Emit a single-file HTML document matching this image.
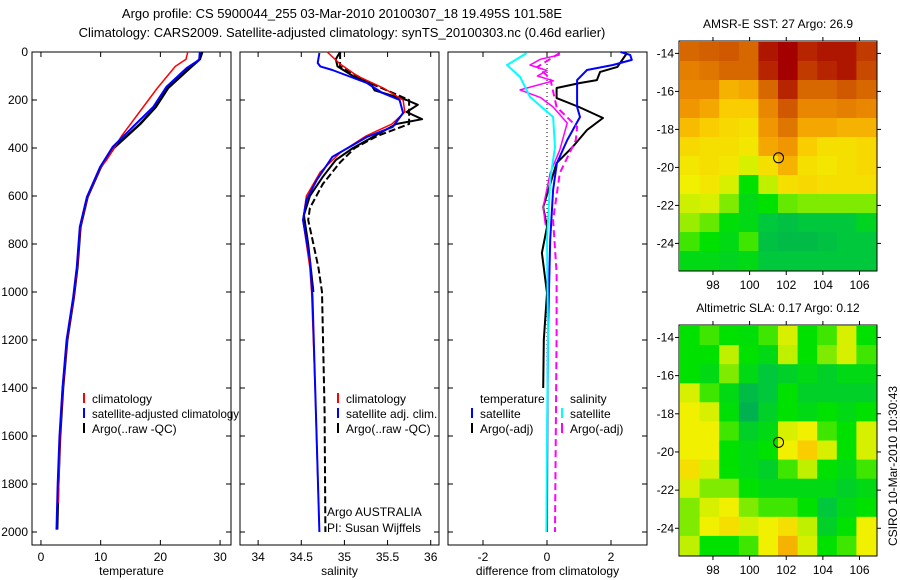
<!DOCTYPE html>
<html><head><meta charset="utf-8">
<style>
html,body{margin:0;padding:0;background:#fff;}
svg{display:block;font-family:"Liberation Sans",sans-serif;}
text{font-size:12px;fill:#000;}
</style></head>
<body>
<svg id="fig" width="900" height="580" viewBox="0 0 900 580" xmlns="http://www.w3.org/2000/svg">
<text x="342" y="18" text-anchor="middle" style="font-size:13px">Argo profile: CS 5900044_255 03-Mar-2010 20100307_18 19.495S 101.58E</text>
<text x="342" y="37" text-anchor="middle" style="font-size:13px">Climatology: CARS2009. Satellite-adjusted climatology: synTS_20100303.nc (0.46d earlier)</text>
<text transform="translate(897,466) rotate(-90)" text-anchor="middle">CSIRO 10-Mar-2010 10:30:43</text>
</svg>
<script>
// ---------- data ----------
const depthTicks=[0,200,400,600,800,1000,1200,1400,1600,1800,2000];
const tempTicks=[0,10,20,30];
const salTicks=[34,34.5,35,35.5,36];
const diffTicks=[-2,0,2];
// panel 1 temperature
const tClimD=[0,30,60,150,250,350,450,480,604,729,896,1021,1200,1400,1600,1880];
const tClimV=[24.6,24.3,22.5,19.5,16.5,13.5,11,10,7.8,6.6,6.1,5.5,4.4,3.7,3.2,2.9];
const tSatD=[0,33,67,146,229,312,396,479,604,729,896,1021,1200,1400,1600,1800,1990];
const tSatV=[26.6,26.5,24.4,21,18.8,15.4,12,9.9,7.7,6.5,6,5.4,4.3,3.6,3.1,2.8,2.6];
const tArgoD=[0,30,70,150,230,300,400,480,604,729,896,1021,1200,1400,1600,1800,1990];
const tArgoV=[27,26.6,24.8,21.3,19.2,16.6,12.2,10,7.8,6.6,6.1,5.5,4.4,3.7,3.2,2.9,2.7];
// panel 2 salinity
const sClimD=[0,50,100,150,200,250,300,350,420,500,600,700,900,1000,1400,1880];
const sClimV=[34.8,34.95,35.15,35.45,35.68,35.7,35.55,35.25,34.95,34.72,34.56,34.52,34.6,34.62,34.66,34.7];
const sSatD=[4,46,60,75,129,171,200,254,312,354,437,533,617,700,867,1021,1500,2000];
const sSatV=[34.71,34.69,34.72,34.86,35.26,35.44,35.64,35.68,35.56,35.26,34.86,34.68,34.56,34.52,34.6,34.63,34.67,34.71];
const sArgoD=[0,30,60,100,130,160,200,220,250,280,300,350,400,450,520,600,680,800,1000];
const sArgoV=[34.95,34.9,34.92,35.1,35.3,35.35,35.72,35.85,35.72,35.9,35.6,35.35,35.1,34.9,34.75,34.6,34.53,34.58,34.64];
const sRawD=[0,60,130,200,250,300,350,400,460,550,650,700,800,900,1000,1500,2000];
const sRawV=[34.95,34.95,35.3,35.75,35.75,35.75,35.38,35.12,34.95,34.75,34.6,34.58,34.64,34.7,34.74,34.77,34.78];
// panel 3 differences
const dTSatD=[0,12,33,54,75,117,229,271,367,463,575,783,1171,1600,2000];
const dTSatV=[2.3,2.6,2.65,2.06,1.25,0.94,0.94,1.03,0.63,0.31,0.19,0.1,0.03,0.01,0];
const dTArgoD=[4,62,83,117,129,150,192,229,275,325,396,463,646,729,837,1004,1200,1400];
const dTArgoV=[2.5,2.2,1.66,1.56,1.03,0.3,0.3,1.0,1.75,1.25,0.8,0.3,-0.12,0,-0.16,0,-0.1,-0.12];
const dSSatD=[4,54,104,187,271,396,533,783,1171,1600,2000];
const dSSatV=[-0.63,-1.25,-0.84,-0.53,0.19,0.25,0.1,0,0.03,0,-0.02];
const dSArgoD=[12,30,54,77,100,120,158,190,229,296,408,504,646,720];
const dSArgoV=[0.4,-0.2,-0.53,0,-0.3,0.2,-0.84,-0.2,0.19,0.63,0.4,0.1,-0.12,-0.05];
const dSRawD=[4,62,110,229,312,367,504,700,921,1171,2000];
const dSRawV=[0.4,-0.3,0.1,0.3,0.94,0.9,0.4,0.19,0.3,0.3,0.25];
// maps (rows top->bottom, 10 cols), normalised colour values
const sstGrid=[
[0.85,0.87,0.88,0.85,0.97,1.0,0.95,0.97,0.97,0.92],
[0.8,0.82,0.85,0.85,0.95,1.0,0.92,0.95,0.97,0.9],
[0.78,0.78,0.7,0.72,0.85,0.95,0.85,0.85,0.88,0.85],
[0.75,0.72,0.65,0.65,0.78,0.88,0.78,0.78,0.8,0.78],
[0.68,0.65,0.62,0.6,0.75,0.82,0.72,0.72,0.7,0.7],
[0.62,0.6,0.6,0.58,0.72,0.75,0.65,0.6,0.6,0.62],
[0.58,0.6,0.58,0.5,0.6,0.7,0.6,0.58,0.6,0.62],
[0.55,0.58,0.5,0.3,0.45,0.6,0.62,0.6,0.6,0.6],
[0.48,0.5,0.4,0.25,0.3,0.38,0.4,0.4,0.4,0.4],
[0.42,0.38,0.28,0.25,0.15,0.12,0.15,0.15,0.15,0.22],
[0.35,0.3,0.25,0.35,0.12,0.1,0.1,0.12,0.15,0.15],
[0.25,0.25,0.22,0.25,0.15,0.15,0.15,0.15,0.15,0.15]];
const slaGrid=[
[0.3,0.35,0.3,0.28,0.35,0.5,0.3,0.35,0.5,0.3],
[0.3,0.3,0.45,0.3,0.25,0.45,0.3,0.4,0.5,0.35],
[0.3,0.25,0.4,0.25,0.15,0.2,0.25,0.2,0.25,0.25],
[0.5,0.35,0.25,0.1,0.15,0.3,0.2,0.2,0.2,0.2],
[0.55,0.5,0.28,0.05,0.2,0.3,0.25,0.3,0.25,0.3],
[0.55,0.55,0.35,0.2,0.25,0.5,0.55,0.35,0.3,0.5],
[0.55,0.55,0.3,0.25,0.3,0.55,0.65,0.5,0.3,0.5],
[0.6,0.5,0.3,0.25,0.2,0.35,0.45,0.3,0.25,0.35],
[0.5,0.4,0.4,0.3,0.25,0.25,0.25,0.25,0.2,0.25],
[0.4,0.5,0.55,0.4,0.35,0.35,0.3,0.15,0.25,0.3],
[0.4,0.55,0.6,0.5,0.55,0.6,0.45,0.2,0.3,0.55],
[0.45,0.3,0.3,0.35,0.55,0.7,0.5,0.3,0.35,0.55]];
const lonTicks=[98,100,102,104,106];
const latTicks=[-14,-16,-18,-20,-22,-24];
const argoLon=101.58, argoLat=-19.495;

// ---------- helpers ----------
const NS='http://www.w3.org/2000/svg';
const svg=document.getElementById('fig');
function mk(tag,attrs,parent){const e=document.createElementNS(NS,tag);for(const k in attrs)e.setAttribute(k,attrs[k]);(parent||svg).appendChild(e);return e;}
const PT=52, PB=545;
function yD(d){return PT+d*0.24;}
const panels=[
 {x0:32,x1:231,vmin:-1.5,vmax:31.83,ticks:tempTicks,label:'temperature',name:'temperature-panel'},
 {x0:240,x1:439,vmin:33.79,vmax:36.096,ticks:salTicks,label:'salinity',name:'salinity-panel'},
 {x0:448,x1:647,vmin:-3.094,vmax:3.125,ticks:diffTicks,label:'difference from climatology',name:'difference-panel'}];
function xF(p){return v=>p.x0+(v-p.vmin)/(p.vmax-p.vmin)*(p.x1-p.x0);}

panels.forEach((p,i)=>{
  const g=mk('g',{});
  
  
  const fr=mk('rect',{x:p.x0,y:PT,width:p.x1-p.x0,height:PB-PT,fill:'#fff',stroke:'#000','stroke-width':1},g);
  
  
  const X=xF(p);
  p.ticks.forEach(t=>{
    const x=X(t);
    mk('line',{x1:x,y1:PT,x2:x,y2:PT+5,stroke:'#000'},g);
    mk('line',{x1:x,y1:PB,x2:x,y2:PB-5,stroke:'#000'},g);
    const tl=mk('text',{x:x,y:PB+16,'text-anchor':'middle'},g);tl.textContent=t;
    
    
  });
  depthTicks.forEach(d=>{
    const y=yD(d);
    mk('line',{x1:p.x0,y1:y,x2:p.x0+5,y2:y,stroke:'#000'},g);
    mk('line',{x1:p.x1,y1:y,x2:p.x1-5,y2:y,stroke:'#000'},g);
    if(i===0){const tl=mk('text',{x:28,y:y+4,'text-anchor':'end'},g);tl.textContent=d;
      
      }
  });
  const xl=mk('text',{x:(p.x0+p.x1)/2,y:575,'text-anchor':'middle'},g);xl.textContent=p.label;
  
  
  p.X=X;
});
function line(p,D,V,color,w,dash,name){
  const pts=D.map((d,k)=>p.X(V[k]).toFixed(1)+','+yD(d).toFixed(1)).join(' ');
  const e=mk('polyline',{points:pts,fill:'none',stroke:color,'stroke-width':w,'stroke-linejoin':'round'});
  if(dash)e.setAttribute('stroke-dasharray',dash);
  
  
}
const [P1,P2,P3]=panels;
const z=mk('line',{x1:P3.X(0),y1:PT,x2:P3.X(0),y2:yD(1400),stroke:'#000','stroke-dasharray':'1,3'});


line(P1,tArgoD,tArgoV,'#000',2.5,null,'temp-argo-line');
line(P1,tClimD,tClimV,'#f00',1.5,null,'temp-climatology-line');
line(P1,tSatD,tSatV,'#00f',2,null,'temp-satellite-line');
line(P2,sRawD,sRawV,'#000',2,'7,3','sal-argo-raw-line');
line(P2,sArgoD,sArgoV,'#000',2,null,'sal-argo-line');
line(P2,sClimD,sClimV,'#f00',1.5,null,'sal-climatology-line');
line(P2,sSatD,sSatV,'#00f',2,null,'sal-satellite-line');
line(P3,dTArgoD,dTArgoV,'#000',2,null,'diff-temp-argo-line');
line(P3,dTSatD,dTSatV,'#00f',2,null,'diff-temp-satellite-line');
line(P3,dSRawD,dSRawV,'#f0f',2,'7,4','diff-sal-argo-raw-line');
line(P3,dSArgoD,dSArgoV,'#f0f',1.5,null,'diff-sal-argo-line');
line(P3,dSSatD,dSSatV,'#0ff',2,null,'diff-sal-satellite-line');

function leg(x,y,color,label,name){
  mk('line',{x1:x,y1:y-10,x2:x,y2:y,stroke:color,'stroke-width':2});
  const t=mk('text',{x:x+8,y:y});t.textContent=label;
  
  
  return t;
}
leg(84,403,'#f00','climatology','legend-climatology');
const lt=leg(84,418,'#00f','satellite-adjusted climatology','legend-satellite-adjusted');
lt.setAttribute('textLength','147');lt.setAttribute('lengthAdjust','spacingAndGlyphs');
leg(84,433,'#000','Argo(..raw -QC)','legend-argo');
leg(338,403,'#f00','climatology','legend2-climatology');
leg(338,418,'#00f','satellite adj. clim.','legend2-satellite');
leg(338,433,'#000','Argo(..raw -QC)','legend2-argo');
let t=mk('text',{x:480,y:403});t.textContent='temperature';


t=mk('text',{x:570,y:403});t.textContent='salinity';


leg(472,418,'#00f','satellite','legend3-temp-satellite');
leg(472,433,'#000','Argo(-adj)','legend3-temp-argo');
leg(562,418,'#0ff','satellite','legend3-sal-satellite');
leg(562,433,'#f0f','Argo(-adj)','legend3-sal-argo');
t=mk('text',{x:327,y:516});t.textContent='Argo AUSTRALIA';


t=mk('text',{x:327,y:532});t.textContent='PI: Susan Wijffels';



// maps
const cmapV=[0,0.15,0.3,0.45,0.55,0.65,0.75,0.87,1.0];
const cmapC=[[0,165,90],[0,200,60],[0,225,0],[190,240,0],[240,240,0],[250,205,0],[240,150,0],[210,95,0],[165,0,0]];
function cmap(v){
  for(let k=1;k<cmapV.length;k++){if(v<=cmapV[k]){const f=(v-cmapV[k-1])/(cmapV[k]-cmapV[k-1]);
    const a=cmapC[k-1],b=cmapC[k];return 'rgb('+a.map((c,j)=>Math.round(c+(b[j]-c)*f)).join(',')+')';}}
  return 'rgb(165,0,0)';
}
const LON0=96.2,LON1=106.9,LAT0=-13.4,LAT1=-25.4;
function drawMap(grid,y0,y1,title,name){
  const x0=680,x1=876;
  const lx=v=>x0+(v-LON0)/(LON1-LON0)*(x1-x0);
  const ly=v=>y0+(v-LAT0)/(LAT1-LAT0)*(y1-y0);
  const g=mk('g',{});
  
  
  const rows=grid.length,cols=grid[0].length;
  const dLon=(LON1-LON0)/cols,dLat=(LAT1-LAT0)/rows;
  grid.forEach((row,r)=>row.forEach((v,c)=>{
    const xa=lx(LON0+c*dLon),xb=lx(LON0+(c+1)*dLon),ya=ly(LAT0+r*dLat),yb=ly(LAT0+(r+1)*dLat);
    const cell=mk('rect',{x:xa.toFixed(1),y:ya.toFixed(1),width:(xb-xa+0.6).toFixed(1),height:(yb-ya+0.6).toFixed(1),fill:cmap(v)},g);
    
    
  }));
  mk('rect',{x:x0-1,y:y0-1,width:x1-x0+2,height:y1-y0+2,fill:'none',stroke:'#000'},g);
  lonTicks.forEach(v=>{const x=lx(v);
    mk('line',{x1:x,y1:y0-1,x2:x,y2:y0-5,stroke:'#000'},g);
    mk('line',{x1:x,y1:y1+1,x2:x,y2:y1+5,stroke:'#000'},g);
    const tl=mk('text',{x:x,y:y1+19,'text-anchor':'middle'},g);tl.textContent=v;
    
    });
  latTicks.forEach(v=>{const y=ly(v);
    mk('line',{x1:x0-1,y1:y,x2:x0-5,y2:y,stroke:'#000'},g);
    mk('line',{x1:x1+1,y1:y,x2:x1+5,y2:y,stroke:'#000'},g);
    const tl=mk('text',{x:674,y:y+4,'text-anchor':'end'},g);tl.textContent=v;
    
    });
  const c=mk('circle',{cx:lx(argoLon),cy:ly(argoLat),r:5,fill:'none',stroke:'#000'},g);
  
  
  const tt=mk('text',{x:(x0+x1)/2,y:y0-14,'text-anchor':'middle'},g);tt.textContent=title;
  
  
}
drawMap(sstGrid,42,270,'AMSR-E SST: 27 Argo: 26.9','sst-map');
drawMap(slaGrid,326,555,'Altimetric SLA: 0.17 Argo: 0.12','sla-map');
</script>
</body></html>
